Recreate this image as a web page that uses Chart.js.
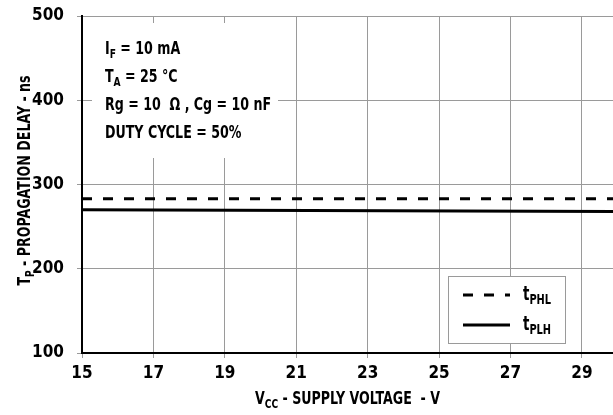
<!DOCTYPE html>
<html>
<head>
<meta charset="utf-8">
<script src="https://cdn.jsdelivr.net/npm/chart.js@4.4.1/dist/chart.umd.min.js"></script>
<style>
  html, body { margin: 0; padding: 0; background: #fff; }
  #wrap { width: 613px; height: 415px; }
</style>
</head>
<body>
<div id="wrap"><canvas id="delayChart" width="613" height="415"></canvas></div>
<script>
// tiempos de propagación vs. tensión de alimentación
const vccPoints = [15, 29.87];
const tPHL = [283, 283];
const tPLH = [270, 268];
const xTicks = [15, 17, 19, 21, 23, 25, 27, 29];
const yTicks = [100, 200, 300, 400, 500];
const notes = [
  ['I', 'F', ' = 10 mA'],
  ['T', 'A', ' = 25 °C'],
  ['Rg = 10  Ω , Cg = 10 nF', '', ''],
  ['DUTY CYCLE = 50%', '', '']
];

const FONT = '"DejaVu Sans Condensed", "DejaVu Sans", sans-serif';
const GRID = '#9a9a9a';
const NARROW = 0.78; // la fuente original es condensada

// ancho de texto con subíndice: [base, sub, resto]
function subWidth(ctx, base, sub, rest, size) {
  ctx.font = 'bold ' + size + 'px ' + FONT;
  let w = ctx.measureText(base).width + ctx.measureText(rest).width;
  ctx.font = 'bold ' + Math.round(size * 0.72) + 'px ' + FONT;
  return (w + ctx.measureText(sub).width) * NARROW;
}

function drawSub(ctx, x, y, base, sub, rest, size) {
  ctx.save();
  ctx.translate(x, y);
  ctx.scale(NARROW, 1);
  let cx = 0;
  ctx.font = 'bold ' + size + 'px ' + FONT;
  ctx.fillText(base, cx, 0);
  cx += ctx.measureText(base).width;
  if (sub) {
    ctx.font = 'bold ' + Math.round(size * 0.72) + 'px ' + FONT;
    ctx.fillText(sub, cx, size * 0.22);
    cx += ctx.measureText(sub).width;
  }
  ctx.font = 'bold ' + size + 'px ' + FONT;
  ctx.fillText(rest, cx, 0);
  ctx.restore();
}

const notesPlugin = {
  id: 'notes',
  beforeDatasetsDraw(chart) {
    const ctx = chart.ctx;
    const a = chart.chartArea;
    ctx.save();
    ctx.fillStyle = '#fff';
    ctx.fillRect(a.left + 10, a.top + 7, 186, 135);
    ctx.fillStyle = '#000';
    ctx.textBaseline = 'alphabetic';
    notes.forEach((n, i) => {
      drawSub(ctx, a.left + 23, a.top + 38 + i * 28, n[0], n[1], n[2], 18);
    });
    ctx.restore();
  }
};

const extrasPlugin = {
  id: 'extras',
  afterDraw(chart) {
    const ctx = chart.ctx;
    const a = chart.chartArea;
    ctx.save();
    ctx.fillStyle = '#000';
    ctx.textBaseline = 'alphabetic';

    // título eje X
    let w = subWidth(ctx, 'V', 'CC', ' - SUPPLY VOLTAGE  - V', 18);
    drawSub(ctx, (a.left + a.right) / 2 - w / 2, 404, 'V', 'CC', ' - SUPPLY VOLTAGE  - V', 18);

    // título eje Y
    ctx.save();
    ctx.translate(30, (a.top + a.bottom) / 2 - 4);
    ctx.rotate(-Math.PI / 2);
    w = subWidth(ctx, 'T', 'P', ' - PROPAGATION DELAY - ns', 18);
    drawSub(ctx, -w / 2, 0, 'T', 'P', ' - PROPAGATION DELAY - ns', 18);
    ctx.restore();

    // leyenda
    const bx = 448, by = 276, bw = 117, bh = 67;
    ctx.fillStyle = '#fff';
    ctx.fillRect(bx, by, bw, bh);
    ctx.strokeStyle = GRID;
    ctx.lineWidth = 1;
    ctx.strokeRect(bx + 0.5, by + 0.5, bw, bh);
    const items = [
      { ds: chart.data.datasets[0], y: by + 19, sub: 'PHL' },
      { ds: chart.data.datasets[1], y: by + 49, sub: 'PLH' }
    ];
    items.forEach(it => {
      ctx.strokeStyle = it.ds.borderColor;
      ctx.lineWidth = it.ds.borderWidth;
      ctx.setLineDash(it.ds.borderDash || []);
      ctx.beginPath();
      ctx.moveTo(bx + 15, it.y);
      ctx.lineTo(bx + 62, it.y);
      ctx.stroke();
      ctx.setLineDash([]);
      ctx.fillStyle = '#000';
      drawSub(ctx, bx + 75, it.y + 5, 't', it.sub, '', 19);
    });
    ctx.restore();
  }
};

new Chart(document.getElementById('delayChart'), {
  type: 'line',
  data: {
    datasets: [
      {
        label: 'tPHL',
        data: vccPoints.map((v, i) => ({ x: v, y: tPHL[i] })),
        borderColor: '#000',
        borderWidth: 3,
        borderDash: [10, 11],
        pointRadius: 0,
        fill: false
      },
      {
        label: 'tPLH',
        data: vccPoints.map((v, i) => ({ x: v, y: tPLH[i] })),
        borderColor: '#000',
        borderWidth: 3,
        pointRadius: 0,
        fill: false
      }
    ]
  },
  options: {
    responsive: false,
    animation: false,
    layout: { padding: { top: 16, right: 0, left: 0, bottom: 0 } },
    plugins: {
      legend: { display: false },
      tooltip: { enabled: false }
    },
    scales: {
      x: {
        type: 'linear',
        min: 15,
        max: 29.87,
        afterBuildTicks: ax => { ax.ticks = xTicks.map(v => ({ value: v })); },
        afterFit: ax => { ax.height = 62; ax.paddingLeft = 0; ax.paddingRight = 0; },
        grid: { color: GRID, lineWidth: 1, tickLength: 5, tickColor: GRID },
        border: { color: '#000', width: 2 },
        ticks: {
          color: '#000',
          padding: 5,
          maxRotation: 0,
          font: { family: FONT, size: 17, weight: 'bold' }
        }
      },
      y: {
        min: 100,
        max: 500,
        afterBuildTicks: ax => { ax.ticks = yTicks.map(v => ({ value: v })); },
        afterFit: ax => { ax.width = 82; ax.paddingTop = 0; ax.paddingBottom = 0; },
        grid: { color: GRID, lineWidth: 1, tickLength: 5, tickColor: GRID },
        border: { color: '#000', width: 2 },
        ticks: {
          color: '#000',
          padding: 13,
          font: { family: FONT, size: 17, weight: 'bold' }
        }
      }
    }
  },
  plugins: [notesPlugin, extrasPlugin]
});
</script>
</body>
</html>
